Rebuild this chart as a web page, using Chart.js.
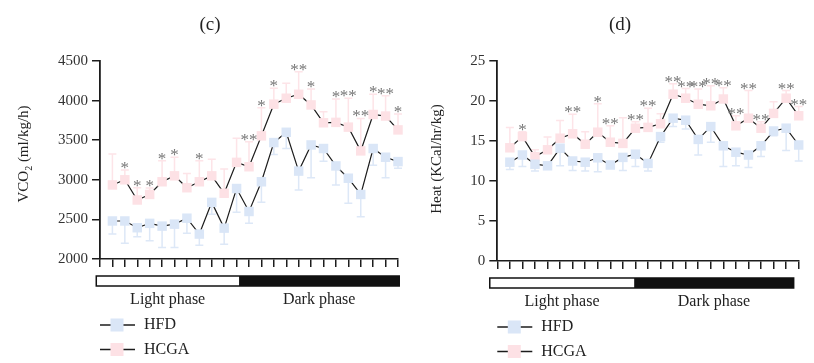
<!DOCTYPE html>
<html>
<head>
<meta charset="utf-8">
<script src="https://cdn.jsdelivr.net/npm/chart.js@4"></script>
<style>
  body { margin: 0; background: #fff; }
  #wrap { position: relative; width: 814px; height: 363px; }
  canvas { position: absolute; top: 0; }
</style>
</head>
<body>
<div id="wrap">
  <canvas id="vco2" width="407" height="363" style="left:0"></canvas>
  <canvas id="heat" width="407" height="363" style="left:407px"></canvas>
</div>
<script>
Chart.defaults.font.family = "'Liberation Serif', serif";
Chart.defaults.color = '#333';

const BLUE = '#dae6f7';
const PINK = '#fde1e5';
const BLUE_BAR = '#dde8f7';
const PINK_BAR = '#fde4e8';
const INK = '#1c1c1c';
const SERIF = "'Liberation Serif', serif";

const hours = [1, 2, 3, 4, 5, 6, 7, 8, 9, 10, 11, 12, 13, 14, 15, 16, 17, 18, 19, 20, 21, 22, 23, 24];
const seriesNames = ['HFD', 'HCGA'];
const phaseNames = ['Light phase', 'Dark phase'];

// (c) VCO2
const vco2Ticks = [2000, 2500, 3000, 3500, 4000, 4500];
const vco2Hfd = [2480, 2480, 2395, 2450, 2415, 2440, 2515, 2315, 2715, 2390, 2890, 2600, 2975, 3470, 3600, 3110, 3440, 3395, 3175, 3020, 2815, 3395, 3285, 3230];
const vco2HfdSem = [165, 280, 115, 220, 270, 295, 190, 140, 150, 205, 300, 150, 260, 150, 205, 240, 415, 160, 240, 315, 280, 210, 260, 85];
const vco2Hcga = [2935, 3000, 2745, 2815, 2975, 3050, 2900, 2975, 3050, 2830, 3220, 3165, 3555, 3955, 4030, 4080, 3945, 3720, 3725, 3665, 3365, 3825, 3805, 3630];
const vco2HcgaSem = [390, 125, 155, 80, 265, 235, 180, 265, 210, 305, 305, 315, 355, 200, 190, 285, 200, 140, 295, 365, 410, 255, 255, 200];
const vco2Stars = ['', '*', '*', '*', '*', '*', '', '*', '', '', '', '**', '*', '*', '', '**', '*', '', '*', '**', '**', '*', '**', '*'];
const vco2Phase = [-0.3, 11.2, 24.1];

// (d) Heat
const heatTicks = [0, 5, 10, 15, 20, 25];
const heatHfd = [12.35, 13.25, 12.1, 11.9, 14.1, 12.5, 12.35, 12.9, 12.0, 12.95, 13.35, 12.2, 15.55, 17.85, 17.6, 15.2, 16.8, 14.4, 13.6, 13.25, 14.4, 16.25, 16.6, 14.5];
const heatHfdSem = [0.9, 1.45, 0.85, 0.3, 2.2, 1.2, 1.1, 1.75, 0.3, 1.65, 1.55, 0.95, 0.7, 1.05, 1.1, 1.95, 1.95, 2.6, 1.7, 1.55, 1.35, 0.6, 2.8, 2.0];
const heatHcga = [14.15, 15.55, 13.05, 13.9, 15.35, 15.9, 14.6, 16.1, 14.85, 14.7, 16.6, 16.7, 17.15, 20.85, 20.35, 19.6, 19.4, 20.25, 16.9, 17.85, 16.6, 18.45, 20.35, 18.15];
const heatHcgaSem = [2.55, 0.6, 0.85, 1.6, 2.2, 2.45, 1.55, 3.55, 2.05, 3.2, 0.8, 2.4, 1.25, 1.3, 1.2, 1.9, 2.5, 1.4, 1.25, 3.45, 0.8, 1.45, 0.95, 1.15];
const heatStars = ['', '*', '', '', '', '**', '', '*', '**', '', '**', '**', '', '**', '**', '**', '**', '**', '**', '**', '**', '', '**', '**'];
const heatPhase = [-0.6, 10.9, 23.6];

function extras(o) {
    return {
        id: 'extras',
        beforeDatasetsDraw(chart) {
            const { ctx, scales: { x, y } } = chart;
            ctx.save();
            ctx.lineWidth = 1.5;
            [[o.hfd, o.hfdSem, -1, BLUE_BAR], [o.hcga, o.hcgaSem, 1, PINK_BAR]].forEach(([vals, sem, dir, col]) => {
                ctx.strokeStyle = col;
                vals.forEach((v, i) => {
                    const px = x.getPixelForValue(hours[i]);
                    const end = y.getPixelForValue(v + dir * sem[i]);
                    ctx.beginPath();
                    ctx.moveTo(px, y.getPixelForValue(v)); ctx.lineTo(px, end);
                    ctx.moveTo(px - 4, end); ctx.lineTo(px + 4, end);
                    ctx.stroke();
                });
            });
            ctx.restore();
        },
        afterDraw(chart) {
            const { ctx, chartArea: a, scales: { x, y } } = chart;
            ctx.save();
            ctx.textAlign = 'center';

            // significance marks above the HCGA error caps
            ctx.fillStyle = '#777';
            ctx.font = '17px ' + SERIF;
            ctx.textBaseline = 'alphabetic';
            o.stars.forEach((s, i) => {
                if (!s) return;
                ctx.fillText(s, x.getPixelForValue(hours[i]), y.getPixelForValue(o.hcga[i] + o.hcgaSem[i]) + 3);
            });

            // panel letter
            ctx.fillStyle = '#222';
            ctx.textBaseline = 'middle';
            ctx.font = '19px ' + SERIF;
            ctx.fillText(o.title, o.titleX, 25);

            // y title, middle part of VCO2 is a subscript
            ctx.save();
            ctx.translate(o.yTitleX, o.yTitleY);
            ctx.rotate(-Math.PI / 2);
            ctx.textAlign = 'left';
            const sub = k => o.yTitle.length > 1 && k === 1;
            const fonts = o.yTitle.map((t, k) => (sub(k) ? '10px ' : '15px ') + SERIF);
            let total = 0;
            o.yTitle.forEach((t, k) => { ctx.font = fonts[k]; total += ctx.measureText(t).width; });
            let tx = -total / 2;
            o.yTitle.forEach((t, k) => {
                ctx.font = fonts[k];
                ctx.fillText(t, tx, sub(k) ? 5 : 0);
                tx += ctx.measureText(t).width;
            });
            ctx.restore();

            // light / dark bar
            const p = o.phase.map(h => x.getPixelForValue(h));
            const top = a.bottom + 17;
            ctx.fillStyle = '#111';
            ctx.fillRect(p[1], top, p[2] - p[1], 10);
            ctx.strokeStyle = '#111';
            ctx.lineWidth = 1.5;
            ctx.strokeRect(p[0], top, p[2] - p[0], 10);
            ctx.fillStyle = '#222';
            ctx.font = '16px ' + SERIF;
            phaseNames.forEach((n, k) => ctx.fillText(n, (p[k] + p[k + 1]) / 2, a.bottom + 41));

            // legend
            [BLUE, PINK].forEach((c, k) => {
                const ly = a.bottom + 66 + k * 24.5;
                ctx.strokeStyle = INK;
                ctx.lineWidth = 1.5;
                ctx.beginPath(); ctx.moveTo(a.left, ly); ctx.lineTo(a.left + 35, ly); ctx.stroke();
                ctx.fillStyle = c;
                ctx.fillRect(a.left + 17 - 6.5, ly - 6.5, 13, 13);
                ctx.fillStyle = '#222';
                ctx.textAlign = 'left';
                ctx.fillText(seriesNames[k], a.left + 44, ly);
            });
            ctx.restore();
        }
    };
}

function series(label, vals, color) {
    return {
        label: label,
        data: hours.map((h, i) => ({ x: h, y: vals[i] })),
        borderColor: INK, borderWidth: 1.2, tension: 0,
        pointStyle: 'rect', pointRadius: 6.7, pointBorderWidth: 0,
        pointBackgroundColor: color, pointBorderColor: color,
        clip: false
    };
}

function makeChart(id, o) {
    return new Chart(document.getElementById(id), {
        type: 'line',
        data: { datasets: [series('HFD', o.hfd, BLUE), series('HCGA', o.hcga, PINK)] },
        options: {
            responsive: false, animation: false, events: [],
            layout: { padding: { top: 61, left: 0, right: o.right, bottom: 0 } },
            plugins: { legend: { display: false }, tooltip: { enabled: false } },
            scales: {
                x: {
                    type: 'linear', min: 0, max: 24,
                    ticks: { stepSize: 1, autoSkip: false, callback: () => '' },
                    grid: { drawOnChartArea: false, tickLength: 8, color: INK, lineWidth: 1.5 },
                    border: { color: INK, width: 1.5 },
                    afterFit: s => { s.height = o.xHeight; }
                },
                y: {
                    min: o.ticks[0], max: o.ticks[o.ticks.length - 1],
                    ticks: { stepSize: o.ticks[1] - o.ticks[0], font: { size: 15 }, padding: 4, color: '#333', callback: v => String(v) },
                    grid: { drawOnChartArea: false, tickLength: 8, color: INK, lineWidth: 1.5 },
                    border: { color: INK, width: 1.8 },
                    afterFit: s => { s.width = o.left; }
                }
            }
        },
        plugins: [extras(o)]
    });
}

makeChart('vco2', {
    title: '(c)', titleX: 210, yTitle: ['VCO', '2', ' (ml/kg/h)'], yTitleX: 24, yTitleY: 154,
    ticks: vco2Ticks, hfd: vco2Hfd, hfdSem: vco2HfdSem, hcga: vco2Hcga, hcgaSem: vco2HcgaSem,
    stars: vco2Stars, phase: vco2Phase, left: 100, right: 9, xHeight: 104
});

makeChart('heat', {
    title: '(d)', titleX: 213, yTitle: ['Heat (KCal/hr/kg)'], yTitleX: 30, yTitleY: 159,
    ticks: heatTicks, hfd: heatHfd, hfdSem: heatHfdSem, hcga: heatHcga, hcgaSem: heatHcgaSem,
    stars: heatStars, phase: heatPhase, left: 90.3, right: 15.3, xHeight: 102
});
</script>
</body>
</html>
